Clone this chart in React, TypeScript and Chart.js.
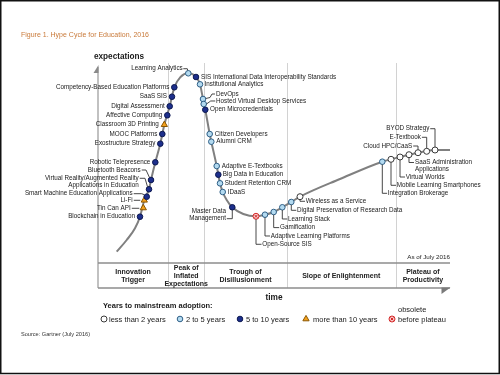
import React, { useEffect, useRef } from 'react';
import { Chart, registerables } from 'chart.js';
Chart.register(...registerables);

// ---- data (time 0..100, expectations 0..100) ----
const curveTime = [5.31, 8.15, 10.51, 11.93, 13.15, 14.49, 15.06, 16.28, 17.7, 18.84, 20.37, 21.68, 23.44, 25.65, 27.84, 28.98, 29.83, 30.48, 31.73, 32.19, 33.72, 34.66, 35.43, 36.56, 38.15, 41.28, 44.89, 47.44, 49.91, 52.36, 54.91, 57.39, 68.75, 80.77, 85.8, 90.91, 95.74, 100];
const curveExpect = [16.13, 21.33, 26.53, 31.69, 38.98, 43.87, 48.0, 55.87, 64.13, 72.58, 80.76, 89.2, 93.78, 95.42, 93.78, 90.53, 84.0, 79.24, 68.44, 65.02, 54.22, 46.53, 42.67, 39.11, 35.87, 32.89, 31.87, 32.58, 33.78, 35.87, 38.22, 40.58, 48.44, 56.13, 58.22, 60.13, 61.33, 61.33];

const techNames = [
  'Blockchain in Education', 'Tin Can API', 'Li-Fi', 'Smart Machine Education Applications',
  'Virtual Reality/Augmented Reality\nApplications in Education', 'Bluetooth Beacons', 'Robotic Telepresence',
  'Exostructure Strategy', 'MOOC Platforms', 'Classroom 3D Printing', 'Affective Computing', 'Digital Assessment',
  'SaaS SIS', 'Competency-Based Education Platforms', 'Learning Analytics',
  'SIS International Data Interoperability Standards', 'Institutional Analytics', 'DevOps',
  'Hosted Virtual Desktop Services', 'Open Microcredentials', 'Citizen Developers', 'Alumni CRM',
  'Adaptive E-Textbooks', 'Big Data in Education', 'Student Retention CRM', 'IDaaS', 'Master Data\nManagement',
  'Open-Source SIS', 'Adaptive Learning Platforms', 'Gamification', 'Learning Stack',
  'Digital Preservation of Research Data', 'Wireless as a Service', 'Integration Brokerage',
  'Mobile Learning Smartphones', 'Virtual Worlds', 'SaaS Administration\nApplications', 'Cloud HPC/CaaS',
  'E-Textbook', 'BYOD Strategy',
];
const techTime = [11.93, 12.87, 13.15, 13.84, 14.49, 15.06, 16.28, 17.7, 18.27, 18.84, 19.69, 20.37, 21.02, 21.68, 25.65, 27.84, 28.98, 29.83, 30.03, 30.48, 31.73, 32.19, 33.72, 34.18, 34.66, 35.43, 38.15, 44.89, 47.44, 49.91, 52.36, 54.91, 57.39, 80.77, 83.24, 85.8, 88.35, 90.91, 93.38, 95.74];
const techExpect = [31.69, 35.56, 38.98, 40.58, 43.87, 48.0, 55.87, 64.13, 68.44, 72.58, 76.76, 80.76, 85.02, 89.2, 95.42, 93.78, 90.53, 84.0, 81.78, 79.24, 68.44, 65.02, 54.22, 50.36, 46.53, 42.67, 35.87, 31.87, 32.58, 33.78, 35.87, 38.22, 40.58, 56.13, 57.2, 58.22, 59.24, 60.13, 60.76, 61.33];
// 0: <2 yrs, 1: 2-5 yrs, 2: 5-10 yrs, 3: >10 yrs, 4: obsolete before plateau
const techClass = [2, 3, 3, 2, 2, 2, 2, 2, 2, 3, 2, 2, 2, 2, 1, 2, 1, 1, 1, 2, 1, 1, 1, 2, 1, 1, 2, 4, 1, 1, 1, 1, 0, 1, 0, 0, 0, 0, 0, 0];

const phaseNames = ['Innovation\nTrigger', 'Peak of\nInflated\nExpectations', 'Trough of\nDisillusionment', 'Slope of Enlightenment', 'Plateau of\nProductivity'];
const phaseBounds = [0, 19.9, 30.2, 53.6, 84.6, 100];
const legendLabels = ['less than 2 years', '2 to 5 years', '5 to 10 years', 'more than 10 years', 'before plateau'];

// ---- layout (pixel offsets of label anchor & leader lines relative to each marker) ----
type Lay = [number, number, 'l' | 'r', number[][]];
const labelLayout: Lay[] = [
  [-5, 0, 'r', []],
  [-12.6, 0.3, 'r', [[-4, 0.3], [-11.5, 0.3]]],
  [-11.6, 0, 'r', [[-4, 0], [-10.5, 0]]],
  [-14, -3, 'r', [[-2.5, -2], [-5, -3], [-13, -3]]],
  [-10.3, -7.5, 'r', [[-1.5, -2.5], [-4, -11], [-9.3, -11]]],
  [-10.3, -10, 'r', [[-1.5, -2.5], [-5, -10], [-9.3, -10]]],
  [-5, 0, 'r', []],
  [-5, 0, 'r', []],
  [-5, 0, 'r', []],
  [-5.5, 0, 'r', []],
  [-5, 0, 'r', []],
  [-5, 0, 'r', []],
  [-5, 0, 'r', []],
  [-5, 0, 'r', []],
  [-5.6, -4.6, 'r', [[-0.5, -2.8], [-1, -4.6], [-5, -4.6]]],
  [5, 0, 'l', []],
  [4.5, 0, 'l', []],
  [13, -5, 'l', [[2.8, -0.5], [7, -1.5], [9, -5], [12, -5]]],
  [12.3, -3, 'l', [[2.8, 0], [7, -3], [11.5, -3]]],
  [4.7, 0, 'l', []],
  [5, 0, 'l', []],
  [5, 0, 'l', []],
  [5, 0, 'l', []],
  [4.5, 0, 'l', []],
  [4.7, 0, 'l', []],
  [5, 0, 'l', []],
  [-6.3, 7.9, 'r', [[0, 2.8], [0, 11.4], [-5.5, 11.4]]],
  [6.3, 28, 'l', [[0, 3], [0, 28], [5.5, 28]]],
  [5.7, 21.3, 'l', [[0, 2.8], [0, 21.3], [5, 21.3]]],
  [6.3, 15.6, 'l', [[0, 2.8], [0, 15.6], [5.5, 15.6]]],
  [5.7, 11.7, 'l', [[0, 2.8], [0, 11.7], [5, 11.7]]],
  [5.7, 8.3, 'l', [[0, 2.8], [0, 8.3], [5, 8.3]]],
  [5.7, 4.6, 'l', [[0, 3], [0, 4.6], [5, 4.6]]],
  [5.4, 31.6, 'l', [[0, 2.8], [0, 31.6], [4.8, 31.6]]],
  [5.7, 26, 'l', [[0, 3], [0, 26], [5, 26]]],
  [5.7, 20, 'l', [[0, 3], [0, 20], [5, 20]]],
  [6, 11.1, 'l', [[0, 3], [0, 7.8], [5, 7.8]]],
  [-5.7, -6.7, 'r', [[0, -3], [0, -6.7], [-4.8, -6.7]]],
  [-5.7, -14, 'r', [[0, -3], [0, -14], [-4.8, -14]]],
  [-5.7, -21.3, 'r', [[0, -3], [0, -21.3], [-4.8, -21.3]]],
];

const classStyle = [
  { pointStyle: 'circle', radius: 3, bg: '#ffffff', border: '#3a3a3a' },
  { pointStyle: 'circle', radius: 2.8, bg: '#b3daf0', border: '#2f5f86' },
  { pointStyle: 'circle', radius: 2.8, bg: '#1d2f8c', border: '#0c1850' },
  { pointStyle: 'triangle', radius: 3.6, bg: '#f4a11d', border: '#8a5600' },
  { pointStyle: 'circle', radius: 3, bg: '#f9c9c9', border: '#d42a2a' },
];

const FONT = "'Liberation Sans', Arial, sans-serif";

function drawText(ctx: CanvasRenderingContext2D, s: string, x: number, y: number, align: CanvasTextAlign, font: string, color: string, lh: number) {
  ctx.font = font;
  ctx.fillStyle = color;
  ctx.textAlign = align;
  ctx.textBaseline = 'middle';
  const lines = s.split('\n');
  lines.forEach((l, i) => ctx.fillText(l, x, y + (i - (lines.length - 1) / 2) * lh));
}

function drawMarker(ctx: CanvasRenderingContext2D, c: number, x: number, y: number) {
  const st = classStyle[c];
  ctx.save();
  ctx.fillStyle = st.bg;
  ctx.strokeStyle = st.border;
  ctx.lineWidth = 1;
  ctx.beginPath();
  if (st.pointStyle === 'triangle') {
    const r = st.radius;
    ctx.moveTo(x, y - r);
    ctx.lineTo(x + r * 0.866, y + r * 0.5);
    ctx.lineTo(x - r * 0.866, y + r * 0.5);
    ctx.closePath();
  } else {
    ctx.arc(x, y, st.radius, 0, Math.PI * 2);
  }
  ctx.fill();
  ctx.stroke();
  if (c === 4) {
    const d = 1.5;
    ctx.beginPath();
    ctx.moveTo(x - d, y - d); ctx.lineTo(x + d, y + d);
    ctx.moveTo(x + d, y - d); ctx.lineTo(x - d, y + d);
    ctx.stroke();
  }
  ctx.restore();
}

function seg(ctx: CanvasRenderingContext2D, x1: number, y1: number, x2: number, y2: number) {
  ctx.beginPath(); ctx.moveTo(x1, y1); ctx.lineTo(x2, y2); ctx.stroke();
}

const hypePlugin = {
  id: 'hype',
  beforeDatasetsDraw(chart: any) {
    const { ctx, scales } = chart;
    const X = (v: number) => scales.x.getPixelForValue(v);
    const Y = (v: number) => scales.y.getPixelForValue(v);
    const x0 = X(0), x1 = X(100), yB = Y(0), yT = Y(100);
    const bandTop = yB - 25;
    ctx.save();
    // phase separators
    ctx.strokeStyle = '#d2d2d2';
    ctx.lineWidth = 1;
    for (let i = 1; i < phaseBounds.length - 1; i++) {
      const px = Math.round(X(phaseBounds[i])) + 0.5;
      seg(ctx, px, yT, px, yB);
    }
    // y axis
    ctx.strokeStyle = '#a0a0a0';
    ctx.lineWidth = 1.3;
    seg(ctx, x0, yT + 4, x0, yB);
    ctx.fillStyle = '#8a8a8a';
    ctx.beginPath(); ctx.moveTo(x0 + 0.5, yT + 2); ctx.lineTo(x0 + 0.5, yT + 10); ctx.lineTo(x0 - 4.5, yT + 10); ctx.closePath(); ctx.fill();
    // band lines
    ctx.strokeStyle = '#8c8c8c';
    ctx.lineWidth = 1.5;
    seg(ctx, x0, bandTop, x1, bandTop);
    seg(ctx, x0, yB, x1, yB);
    ctx.fillStyle = '#7a7a7a';
    ctx.beginPath(); ctx.moveTo(x1 + 0.5, yB - 0.5); ctx.lineTo(x1 - 8.5, yB - 0.5); ctx.lineTo(x1 - 8.5, yB + 6); ctx.closePath(); ctx.fill();
    // phase labels
    for (let i = 0; i < phaseNames.length; i++) {
      const cx = (X(phaseBounds[i]) + X(phaseBounds[i + 1])) / 2;
      drawText(ctx, phaseNames[i], cx, (bandTop + yB) / 2 + 0.5, 'center', `bold 7px ${FONT}`, '#222', 7.8);
    }
    ctx.restore();
  },
  afterDatasetsDraw(chart: any) {
    const { ctx, scales } = chart;
    const X = (v: number) => scales.x.getPixelForValue(v);
    const Y = (v: number) => scales.y.getPixelForValue(v);
    const x0 = X(0), x1 = X(100), yB = Y(0);
    ctx.save();
    // technology labels & leaders
    ctx.strokeStyle = '#333';
    ctx.lineWidth = 0.9;
    for (let i = 0; i < techNames.length; i++) {
      const px = X(techTime[i]), py = Y(techExpect[i]);
      const [tx, ty, al, lead] = labelLayout[i];
      if (lead.length) {
        ctx.beginPath();
        lead.forEach(([dx, dy], k) => (k === 0 ? ctx.moveTo(px + dx, py + dy) : ctx.lineTo(px + dx, py + dy)));
        ctx.stroke();
      }
      drawText(ctx, techNames[i], px + tx, py + ty, al === 'l' ? 'left' : 'right', `6.3px ${FONT}`, '#1a1a1a', 7);
    }
    // texts around the chart
    drawText(ctx, 'Figure 1. Hype Cycle for Education, 2016', 21, 35, 'left', `7px ${FONT}`, '#c97a3a', 8);
    drawText(ctx, 'expectations', 94, 57, 'left', `bold 8.2px ${FONT}`, '#1a1a1a', 8);
    drawText(ctx, 'time', (x0 + x1) / 2, yB + 9.5, 'center', `bold 8.3px ${FONT}`, '#1a1a1a', 8);
    drawText(ctx, 'As of July 2016', x1, yB - 31, 'right', `6.25px ${FONT}`, '#222', 7);
    // legend
    drawText(ctx, 'Years to mainstream adoption:', 103, 306, 'left', `bold 7.5px ${FONT}`, '#1a1a1a', 8);
    const lx = [104, 180, 240, 306, 392];
    const tx = [109, 186, 246, 313, 398];
    for (let c = 0; c < legendLabels.length; c++) {
      drawMarker(ctx, c, lx[c], 319);
      drawText(ctx, legendLabels[c], tx[c], 319.5, 'left', `7.5px ${FONT}`, '#1a1a1a', 8);
    }
    drawText(ctx, 'obsolete', 398, 310, 'left', `7.5px ${FONT}`, '#1a1a1a', 8);
    drawText(ctx, 'Source: Gartner (July 2016)', 21, 334, 'left', `5.6px ${FONT}`, '#333', 7);
    // frame
    ctx.strokeStyle = '#111';
    ctx.lineWidth = 1.5;
    ctx.strokeRect(0.75, 0.75, 498.5, 372.75);
    ctx.restore();
  },
};

export default function App() {
  const ref = useRef<HTMLCanvasElement>(null);
  useEffect(() => {
    const canvas = ref.current!;
    const datasets: any[] = [];
    classStyle.forEach((st, c) => {
      const pts: { x: number; y: number }[] = [];
      techClass.forEach((k, i) => { if (k === c) pts.push({ x: techTime[i], y: techExpect[i] }); });
      datasets.push({
        type: 'scatter',
        data: pts,
        pointStyle: st.pointStyle,
        pointRadius: st.radius,
        pointBackgroundColor: st.bg,
        pointBorderColor: st.border,
        pointBorderWidth: 1,
        clip: false,
        order: 0,
      });
      if (c === 4) {
        datasets.push({
          type: 'scatter',
          data: pts,
          pointStyle: 'crossRot',
          pointRadius: 2,
          pointBorderColor: st.border,
          pointBorderWidth: 1,
          clip: false,
          order: -1,
        });
      }
    });
    datasets.push({
      type: 'line',
      data: curveTime.map((t, i) => ({ x: t, y: curveExpect[i] })),
      borderColor: '#808080',
      borderWidth: 2,
      pointRadius: 0,
      cubicInterpolationMode: 'monotone',
      fill: false,
      clip: false,
      order: 10,
    });
    const chart = new Chart(canvas, {
      type: 'scatter',
      data: { datasets },
      options: {
        responsive: false,
        animation: false,
        devicePixelRatio: 1,
        events: [],
        layout: { padding: { left: 98, right: 50, top: 63, bottom: 87 } },
        scales: {
          x: { type: 'linear', min: 0, max: 100, display: false },
          y: { type: 'linear', min: 0, max: 100, display: false },
        },
        plugins: { legend: { display: false }, tooltip: { enabled: false }, title: { display: false } },
      } as any,
      plugins: [hypePlugin],
    });
    return () => chart.destroy();
  }, []);
  return (
    <div style={{ position: 'fixed', left: 0, top: 0, width: 500, height: 375, background: '#fff' }}>
      <canvas ref={ref} width={500} height={375} style={{ display: 'block' }} />
    </div>
  );
}
